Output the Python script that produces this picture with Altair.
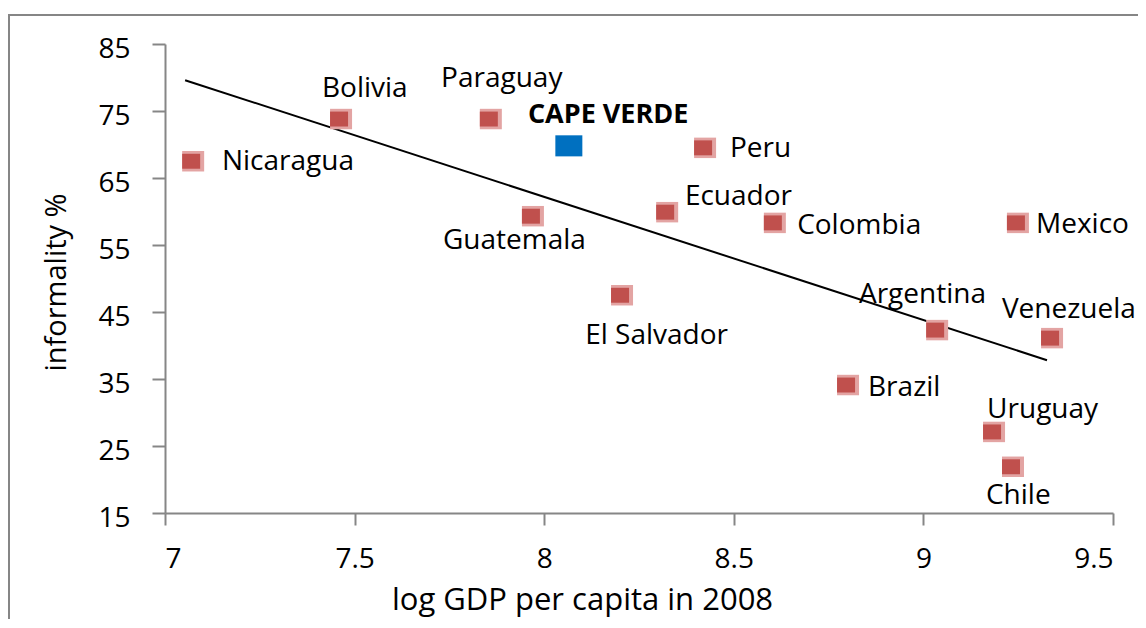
import altair as alt
import pandas as pd

# ---- data ----
countries = ["Nicaragua", "Bolivia", "Paraguay", "Peru", "Guatemala", "Ecuador",
             "Colombia", "Mexico", "El Salvador", "Argentina", "Venezuela",
             "Brazil", "Uruguay", "Chile"]
log_gdp = [7.069, 7.459, 7.854, 8.419, 7.965, 8.319, 8.603, 9.244, 8.200,
           9.031, 9.334, 8.796, 9.181, 9.231]
informality = [67.5, 73.8, 73.8, 69.5, 59.3, 59.9, 58.3, 58.3, 47.5,
               42.3, 41.1, 34.1, 27.1, 21.9]
# label anchor (left edge, text baseline) in data units
label_x = [7.150, 7.414, 7.728, 8.490, 7.733, 8.371, 8.667, 9.297, 8.108,
           8.830, 9.207, 8.854, 9.168, 9.165]
label_y = [66.2, 77.1, 78.6, 68.1, 54.4, 61.0, 56.6, 56.8, 40.2,
           46.3, 44.1, 32.5, 29.2, 16.3]

highlight_name = ["CAPE VERDE"]
highlight_x = [8.065]
highlight_y = [69.8]
highlight_label_x = [7.957]
highlight_label_y = [73.2]

trend_x = [7.053, 9.326]
trend_y = [79.6, 37.8]

x_ticks = [7, 7.5, 8, 8.5, 9, 9.5]
y_ticks = [15, 25, 35, 45, 55, 65, 75, 85]

FONT = "Open Sans"
AXIS_GRAY = "#868686"

df = pd.DataFrame({"country": countries, "x": log_gdp, "y": informality,
                   "lx": label_x, "ly": label_y})
hl = pd.DataFrame({"country": highlight_name, "x": highlight_x, "y": highlight_y,
                   "lx": highlight_label_x, "ly": highlight_label_y})
trend = pd.DataFrame({"x": trend_x, "y": trend_y})

xscale = alt.Scale(domain=[7, 9.5], nice=False, zero=False)
yscale = alt.Scale(domain=[15, 85], nice=False, zero=False)

x_axis = alt.Axis(values=x_ticks, format=".1~f", grid=False,
                  domainColor=AXIS_GRAY, domainWidth=2,
                  tickColor=AXIS_GRAY, tickWidth=2, tickSize=12,
                  labelFont=FONT, labelFontSize=28, labelColor="black",
                  labelPadding=20,
                  title="log GDP per capita in 2008", titleFont=FONT,
                  titleFontSize=31, titleFontWeight="normal", titleColor="black",
                  titleX=417, titleY=96, titleAlign="center",
                  titleBaseline="alphabetic")
y_axis = alt.Axis(values=y_ticks, grid=False,
                  domainColor=AXIS_GRAY, domainWidth=2,
                  tickColor=AXIS_GRAY, tickWidth=2, tickSize=13,
                  labelFont=FONT, labelFontSize=28, labelColor="black",
                  labelPadding=22, labelOffset=5,
                  title="informality %", titleFont=FONT,
                  titleFontSize=29, titleFontWeight="normal", titleColor="black",
                  titleX=-100, titleY=238, titleAngle=270, titleAlign="center",
                  titleBaseline="alphabetic")

base = alt.Chart(df)
one = alt.Data(values=[{"a": 1}])

frame_left = alt.Chart(one).mark_rule(color=AXIS_GRAY, strokeWidth=2).encode(
    x=alt.value(-156), y=alt.value(-30), y2=alt.value(575))
frame_top = alt.Chart(one).mark_rule(color=AXIS_GRAY, strokeWidth=2).encode(
    x=alt.value(-157), x2=alt.value(973), y=alt.value(-29))

axes = base.mark_point(opacity=0).encode(
    x=alt.X("x:Q", scale=xscale, axis=x_axis),
    y=alt.Y("y:Q", scale=yscale, axis=y_axis),
)

shadow = base.mark_point(
    filled=True, opacity=1, color="#E3A4A3", strokeWidth=0,
    shape="M-1,-0.93L1,-0.93L1,0.93L-1,0.93Z", size=484
).encode(x=alt.X("x:Q", scale=xscale), y=alt.Y("y:Q", scale=yscale),
         xOffset=alt.value(2))

core = base.mark_point(
    filled=True, opacity=1, color="#C0504D", strokeWidth=0,
    shape="M-1,-0.83L1,-0.83L1,0.83L-1,0.83Z", size=324
).encode(x=alt.X("x:Q", scale=xscale), y=alt.Y("y:Q", scale=yscale))

labels = base.mark_text(
    align="left", baseline="alphabetic", font=FONT, fontSize=28, color="black"
).encode(x=alt.X("lx:Q", scale=xscale), y=alt.Y("ly:Q", scale=yscale),
         text="country:N")

trend_line = alt.Chart(trend).mark_line(color="black", strokeWidth=2).encode(
    x=alt.X("x:Q", scale=xscale), y=alt.Y("y:Q", scale=yscale))

hl_point = alt.Chart(hl).mark_point(
    filled=True, opacity=1, color="#0070C0", strokeWidth=0,
    shape="M-1,-0.78L1,-0.78L1,0.78L-1,0.78Z", size=729
).encode(x=alt.X("x:Q", scale=xscale), y=alt.Y("y:Q", scale=yscale))

hl_label = alt.Chart(hl).mark_text(
    align="left", baseline="alphabetic", font=FONT, fontSize=27,
    fontWeight="bold", color="black"
).encode(x=alt.X("lx:Q", scale=xscale), y=alt.Y("ly:Q", scale=yscale),
         text="country:N")

chart = alt.layer(
    frame_left, frame_top, axes, trend_line, shadow, core, hl_point, labels, hl_label
).properties(
    width=948, height=469,
    autosize=alt.AutoSizeParams(type="none"),
    padding={"left": 157, "top": 36, "right": 25, "bottom": 106},
    background="white",
).configure_view(strokeWidth=0)

chart.save("out.html", embed_options={"renderer": "svg", "actions": False})
